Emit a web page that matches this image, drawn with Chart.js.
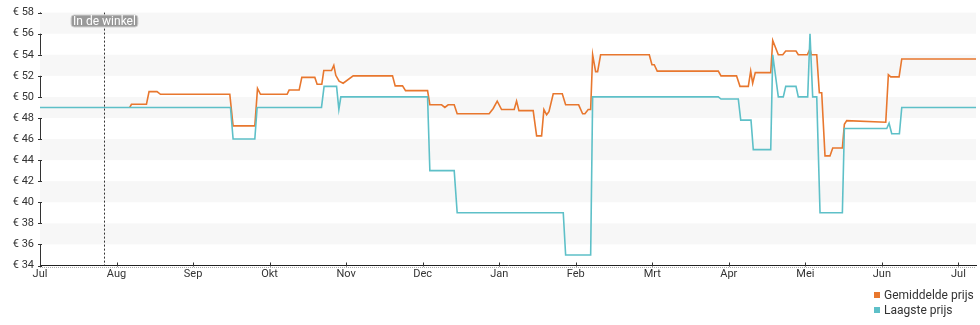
<!DOCTYPE html>
<html>
<head>
<meta charset="utf-8">
<title>Prijsverloop</title>
<script src="https://cdn.jsdelivr.net/npm/chart.js@4.4.1/dist/chart.umd.min.js"></script>
<style>
html,body{margin:0;padding:0;background:#fff;}
#wrap{position:relative;width:980px;height:325px;}
#legenda{position:absolute;left:874px;top:288px;font:12px Roboto,sans-serif;color:#333;}
#legenda div{height:15px;line-height:15px;white-space:nowrap;}
#legenda span{display:inline-block;width:6px;height:6px;margin-right:4px;vertical-align:1px;}
</style>
</head>
<body>
<div id="wrap">
  <canvas id="prijsgrafiek" width="980" height="325"></canvas>
  <div id="legenda"></div>
</div>
<script>
// maandlabels op de x-as, x = aantal maanden sinds 1 juli
const maanden=['Jul','Aug','Sep','Okt','Nov','Dec','Jan','Feb','Mrt','Apr','Mei','Jun','Jul']
const xEinde=12.23
const winkelMoment=0.84

// gemiddelde prijs (oranje), begint pas waar hij afwijkt van de laagste prijs
const gemX=[1.173,1.195,1.391,1.425,1.529,1.574,2.48,2.523,2.807,2.842,2.881,3.229,3.255,3.386,3.421,3.591,3.621,3.682,3.708,
  3.809,3.839,3.865,3.908,3.961,4.092,4.606,4.641,4.737,4.776,5.064,5.094,5.247,5.29,5.333,5.412,5.451,5.869,5.922,5.974,
  6.031,6.196,6.227,6.258,6.444,6.489,6.554,6.584,6.62,6.65,6.706,6.824,6.868,7.038,7.09,7.12,7.163,7.195,7.221,7.26,
  7.286,7.325,7.961,7.996,8.026,8.065,8.863,8.898,9.101,9.146,9.255,9.286,9.312,9.346,9.548,9.574,9.647,9.705,9.744,9.878,
  9.908,10.026,10.061,10.078,10.149,10.183,10.214,10.257,10.322,10.358,10.484,10.51,10.541,11.051,11.085,11.116,11.225,11.26,12.23]
const gemPrijs=[49,49.3,49.3,50.5,50.5,50.25,50.25,47.25,47.25,50.8,50.25,50.25,50.65,50.65,51.85,51.85,51.2,51.2,52.5,
  52.5,53,52.05,51.5,51.3,52,52,51.05,51.05,50.6,50.6,49.25,49.25,49,49.25,49.25,48.4,48.4,48.9,49.6,
  48.8,48.8,49.6,48.7,48.7,46.3,46.3,48.8,48.3,48.6,50.3,50.3,49.25,49.25,48.4,48.4,48.8,48.8,54,52.4,
  52.4,54,54,53.05,53.05,52.45,52.45,52,52,51,51,52.45,51.3,52.3,52.3,55.35,54,54,54.35,54.35,
  54,54,54.55,54,54,50.4,50.4,44.4,44.4,45.15,45.15,47.4,47.75,47.6,52.1,51.9,51.9,53.6,53.6]

// laagste prijs (turquoise)
const laagX=[0,2.489,2.523,2.807,2.837,3.678,3.712,3.875,3.905,3.931,5.064,5.094,5.412,5.451,6.837,6.868,7.195,7.221,8.863,8.898,
  9.124,9.156,9.29,9.32,9.548,9.574,9.647,9.712,9.744,9.878,9.908,10.031,10.061,10.096,10.149,10.192,10.484,10.51,11.064,11.094,
  11.129,11.229,11.26,12.23]
const laagPrijs=[49,49,46,46,49,49,51,51,48.8,50,50,43,43,39,39,35,35,50,50,49.8,
  49.8,47.8,47.8,45,45,54,50,50,51,51,50,50,56,50,50,39,39,47,47,47.5,
  46.5,46.5,49,49]

// y-as: van 34 tot 58 euro, stap 2; grijze banden om de 4 euro
const yMin=34, yMax=58, yStap=2
const banden=[[36,38],[40,42],[44,46],[48,50],[52,54],[56,58]]

const kleurGem='#e8772e'
const kleurLaag='#5ec0c8'

const punten=(xs,ys)=>xs.map((x,i)=>({x:x,y:ys[i]}))

const achtergrond={
  id:'achtergrond',
  beforeDatasetsDraw(chart){
    const {ctx,chartArea,scales:{y}}=chart
    ctx.save()
    ctx.fillStyle='#f7f7f7'
    banden.forEach(b=>{
      const top=y.getPixelForValue(b[1])
      const bot=y.getPixelForValue(b[0])
      ctx.fillRect(chartArea.left,top,chartArea.right-chartArea.left,bot-top)
    })
    ctx.restore()
  }
}

const extras={
  id:'extras',
  afterDraw(chart){
    const {ctx,chartArea,scales:{x,y}}=chart
    ctx.save()
    // streepjes op de assen
    ctx.strokeStyle='#333'
    ctx.lineWidth=1
    ctx.beginPath()
    x.ticks.forEach(t=>{
      const px=Math.round(x.getPixelForValue(t.value))+0.5
      ctx.moveTo(px,chartArea.bottom-3)
      ctx.lineTo(px,chartArea.bottom+1)
    })
    y.ticks.forEach(t=>{
      const py=Math.round(y.getPixelForValue(t.value))+0.5
      ctx.moveTo(chartArea.left-2,py)
      ctx.lineTo(chartArea.left+2,py)
    })
    ctx.stroke()
    // gestippelde lijn onder de x-as
    ctx.strokeStyle='#aaa'
    ctx.setLineDash([1,1])
    ctx.beginPath()
    ctx.moveTo(chartArea.left,Math.round(chartArea.bottom)+1.5)
    ctx.lineTo(chartArea.right,Math.round(chartArea.bottom)+1.5)
    ctx.stroke()
    // moment "in de winkel"
    const wx=Math.round(x.getPixelForValue(winkelMoment))+0.5
    ctx.strokeStyle='#333'
    ctx.setLineDash([2,2])
    ctx.beginPath()
    ctx.moveTo(wx,chartArea.top)
    ctx.lineTo(wx,chartArea.bottom)
    ctx.stroke()
    ctx.setLineDash([])
    ctx.font='12px Roboto'
    const tekst='In de winkel'
    const bw=ctx.measureText(tekst).width+4
    ctx.fillStyle='#999'
    ctx.strokeStyle='#d0d0d0'
    ctx.beginPath()
    ctx.roundRect(wx-bw/2,15,bw,12,3)
    ctx.fill()
    ctx.stroke()
    ctx.fillStyle='#fff'
    ctx.textAlign='center'
    ctx.textBaseline='middle'
    ctx.fillText(tekst,wx,21.5)
    ctx.restore()
  }
}

const grafiek=new Chart(document.getElementById('prijsgrafiek'),{
  type:'line',
  data:{
    datasets:[
      {label:'Gemiddelde prijs',data:punten(gemX,gemPrijs),borderColor:kleurGem,backgroundColor:kleurGem,
       borderWidth:1.6,pointRadius:0,tension:0,fill:false,order:2},
      {label:'Laagste prijs',data:punten(laagX,laagPrijs),borderColor:kleurLaag,backgroundColor:kleurLaag,
       borderWidth:1.6,pointRadius:0,tension:0,fill:false,order:1}
    ]
  },
  options:{
    responsive:false,
    animation:false,
    layout:{padding:{top:10,right:4,left:0,bottom:0}},
    plugins:{legend:{display:false},tooltip:{enabled:false}},
    scales:{
      x:{
        type:'linear',min:0,max:xEinde,
        grid:{display:false,drawTicks:false},
        border:{display:true,color:'#222',width:1},
        ticks:{stepSize:1,includeBounds:false,padding:2,color:'#333',font:{family:'Roboto',size:11},
          maxRotation:0,autoSkip:false,
          callback:v=>maanden[v]},
        afterFit(s){s.height=59.5}
      },
      y:{
        min:yMin,max:yMax,
        grid:{display:false,drawTicks:false},
        border:{display:true,color:'#333',width:1},
        ticks:{stepSize:yStap,padding:6,color:'#333',font:{family:'Roboto',size:11},
          callback:v=>'€ '+v},
        afterFit(s){s.width=40}
      }
    }
  },
  plugins:[achtergrond,extras]
})

// legenda rechtsonder, onder elkaar
document.getElementById('legenda').innerHTML=grafiek.data.datasets.map(d=>
  `<div><span style="background:${d.borderColor}"></span>${d.label}</div>`).join('')
</script>
</body>
</html>
